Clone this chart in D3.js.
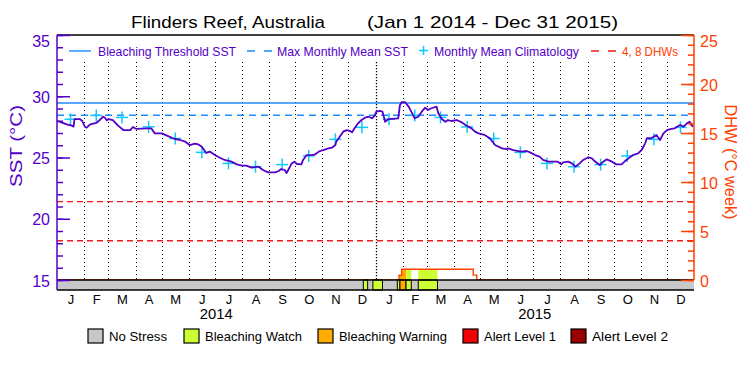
<!DOCTYPE html>
<html><head><meta charset="utf-8">
<script src="https://cdn.jsdelivr.net/npm/d3@7"></script>
<style>body{margin:0;background:#fff}svg{display:block}text{font-family:"Liberation Sans",Arial,sans-serif}</style>
</head><body><svg id="c" width="750" height="375"></svg>
<script>
// ---------------- DATA ----------------
const sstDates = ["2014-01-01","2014-01-06","2014-01-12","2014-01-18","2014-01-20","2014-01-21","2014-01-27","2014-01-30","2014-02-02","2014-02-04","2014-02-08","2014-02-15","2014-02-19","2014-02-23","2014-02-25","2014-02-27","2014-03-01","2014-03-06","2014-03-12","2014-03-18","2014-03-26","2014-03-29","2014-04-02","2014-04-14","2014-04-19","2014-04-23","2014-05-01","2014-05-07","2014-05-16","2014-05-22","2014-05-28","2014-06-02","2014-06-08","2014-06-12","2014-06-16","2014-06-21","2014-06-25","2014-07-01","2014-07-05","2014-07-12","2014-07-20","2014-07-26","2014-08-01","2014-08-06","2014-08-12","2014-08-20","2014-08-25","2014-08-31","2014-09-08","2014-09-12","2014-09-15","2014-09-19","2014-09-21","2014-09-23","2014-09-27","2014-09-30","2014-10-03","2014-10-08","2014-10-10","2014-10-14","2014-10-20","2014-10-24","2014-10-28","2014-11-02","2014-11-08","2014-11-12","2014-11-16","2014-11-17","2014-11-21","2014-11-25","2014-11-29","2014-12-03","2014-12-05","2014-12-08","2014-12-12","2014-12-16","2014-12-20","2014-12-24","2014-12-28","2014-12-31","2015-01-02","2015-01-06","2015-01-09","2015-01-11","2015-01-12","2015-01-16","2015-01-27","2015-01-29","2015-01-31","2015-02-04","2015-02-08","2015-02-11","2015-02-15","2015-02-19","2015-02-23","2015-02-27","2015-03-02","2015-03-06","2015-03-12","2015-03-14","2015-03-18","2015-03-22","2015-03-25","2015-03-29","2015-04-04","2015-04-10","2015-04-14","2015-04-21","2015-04-25","2015-04-29","2015-05-06","2015-05-12","2015-05-18","2015-05-26","2015-05-31","2015-06-02","2015-06-08","2015-06-17","2015-06-23","2015-06-27","2015-07-03","2015-07-08","2015-07-12","2015-07-18","2015-07-29","2015-08-02","2015-08-04","2015-08-10","2015-08-14","2015-08-18","2015-08-23","2015-08-27","2015-09-02","2015-09-06","2015-09-09","2015-09-15","2015-09-19","2015-09-23","2015-09-29","2015-10-04","2015-10-10","2015-10-14","2015-10-18","2015-10-23","2015-10-29","2015-11-02","2015-11-06","2015-11-08","2015-11-13","2015-11-19","2015-11-23","2015-11-27","2015-12-01","2015-12-06","2015-12-10","2015-12-16","2015-12-20","2015-12-24","2015-12-27","2015-12-29","2015-12-31"];
const sstValues = [28.0,27.87,27.71,27.6,27.52,28.14,28.14,27.98,27.49,27.43,27.71,27.82,28.06,28.33,28.25,28.03,28.14,28.06,27.6,27.24,27.24,27.49,27.33,27.38,27.38,26.97,26.97,26.78,26.51,26.43,26.29,26.02,26.13,26.07,25.88,25.37,25.48,25.2,25.04,24.8,24.66,24.44,24.33,24.33,24.17,24.25,23.98,23.79,23.79,23.9,24.06,23.98,23.73,23.98,24.52,24.66,24.47,24.44,24.8,25.2,25.2,25.26,25.48,25.61,25.75,25.8,26.02,26.29,26.7,27.11,27.24,27.16,27.05,27.38,27.79,28.06,28.25,28.33,28.2,28.41,28.74,28.8,28.74,28.2,27.92,28.14,28.2,29.29,29.51,29.51,29.15,28.74,28.2,28.33,28.74,29.07,28.88,29.02,29.15,28.61,28.14,27.92,28.06,27.98,28.06,27.87,27.65,27.38,27.11,26.97,26.84,26.57,26.02,25.75,25.69,25.75,25.61,25.48,25.53,25.42,25.2,25.07,24.8,24.66,24.66,24.44,24.61,24.66,24.52,24.25,24.52,24.8,25.02,24.93,24.71,24.39,24.66,24.85,24.66,24.44,24.44,24.71,24.93,25.2,25.34,25.61,26.16,26.57,26.57,26.84,26.43,26.97,27.24,27.33,27.38,27.65,27.52,27.79,27.92,27.65,27.52];

const climYears = [2014, 2015];
const climValues = [28.12,28.43,28.27,27.5,26.55,25.42,24.52,24.25,24.42,25.13,26.48,27.46];

const mmm = 28.45;
const bleachingThreshold = 29.45;
const dhwLevels = [4, 8];

const dhwDates  = ["2014-01-01","2015-01-28","2015-01-31","2015-04-23","2015-04-27","2015-12-31"];
const dhwValues = [0, 0.5, 1.1, 0.5, 0, 0];

const stressStart = ["2014-12-18","2014-12-29","2015-01-26","2015-01-29","2015-02-05","2015-02-19"];
const stressEnd   = ["2014-12-23","2015-01-09","2015-01-29","2015-02-05","2015-02-11","2015-03-13"];
const stressLevel = [1,1,1,2,1,1];

const stressNames  = ["No Stress","Bleaching Watch","Bleaching Warning","Alert Level 1","Alert Level 2"];
const stressColors = ["#c8c8c8","#ccff33","#ffaa00","#f00000","#960000"];

const monthLetters = ["J","F","M","A","M","J","J","A","S","O","N","D"];
const yearLabels = ["2014","2015"];
const leftTicks = [15,20,25,30,35];
const rightTicks = [0,5,10,15,20,25];

// ---------------- LAYOUT ----------------
const L=57, R=694, T=35, PB=280, BB=290;
const PURPLE="#5500c8", BLUE="#1e8cff", CYAN="#10c8ff", RED="#ee1c1c", ORANGE="#ff4000";
const parse = d3.utcParse("%Y-%m-%d");
const svg = d3.select("#c");
const x = d3.scaleUtc().domain([parse("2014-01-01"), parse("2016-01-01")]).range([L, R]);
const yL = d3.scaleLinear().domain([15,35]).range([PB,T]);
const yR = d3.scaleLinear().domain([0,25]).range([PB,T]);

// title
svg.append("text").attr("x",131).attr("y",28).attr("font-size",17).attr("textLength",194).attr("lengthAdjust","spacingAndGlyphs").text("Flinders Reef, Australia");
svg.append("text").attr("x",367).attr("y",28).attr("font-size",17).attr("textLength",251).attr("lengthAdjust","spacingAndGlyphs").text("(Jan 1 2014 - Dec 31 2015)");

// month dotted lines
const monthStarts = d3.utcMonths(parse("2014-02-01"), parse("2016-01-01"));
svg.append("g").selectAll("line").data(monthStarts).join("line")
  .attr("x1",d=>Math.round(x(d))+0.5).attr("x2",d=>Math.round(x(d))+0.5)
  .attr("y1",62).attr("y2",PB)
  .attr("stroke","#000")
  .attr("stroke-width",d=>d.getUTCMonth()===0?1.3:1)
  .attr("stroke-dasharray",d=>d.getUTCMonth()===0?"1.3,1.7":"1,3");

// DHW dashed levels
svg.append("g").selectAll("line").data(dhwLevels).join("line")
  .attr("x1",L).attr("x2",R).attr("y1",d=>yR(d)).attr("y2",d=>yR(d))
  .attr("stroke",RED).attr("stroke-width",1.4).attr("stroke-dasharray","6,4");

// threshold & MMM
svg.append("line").attr("x1",L).attr("x2",R).attr("y1",yL(bleachingThreshold)).attr("y2",yL(bleachingThreshold))
  .attr("stroke",BLUE).attr("stroke-width",1.4);
svg.append("line").attr("x1",L).attr("x2",R).attr("y1",yL(mmm)).attr("y2",yL(mmm))
  .attr("stroke",BLUE).attr("stroke-width",1.4).attr("stroke-dasharray","7,5");

// climatology crosses
const clim = [];
climYears.forEach(yr=>{
  climValues.forEach((v,i)=>{
    const s = Date.UTC(yr,i,1), e = Date.UTC(yr,i+1,1);
    clim.push({date:new Date((s+e)/2), v});
  });
});
const cg = svg.append("g").attr("stroke",CYAN).attr("stroke-width",1.5);
clim.forEach(c=>{
  const cx=x(c.date), cy=yL(c.v);
  cg.append("line").attr("x1",cx-6).attr("x2",cx+6).attr("y1",cy).attr("y2",cy);
  cg.append("line").attr("x1",cx).attr("x2",cx).attr("y1",cy-6).attr("y2",cy+6);
});

// SST line
const sst = sstDates.map((d,i)=>({date:parse(d), v:sstValues[i]}));
svg.append("path").datum(sst)
  .attr("d", d3.line().x(d=>x(d.date)).y(d=>yL(d.v)).curve(d3.curveLinear))
  .attr("fill","none").attr("stroke",PURPLE).attr("stroke-width",1.8).attr("stroke-linejoin","round");

// DHW area + line
const dhw = dhwDates.map((d,i)=>({date:parse(d), v:dhwValues[i]}));
const stress = stressStart.map((s,i)=>({s:parse(s), e:parse(stressEnd[i]), lvl:stressLevel[i]}));
const areaGen = d3.area().x(d=>x(d.date)).y0(PB).y1(d=>yR(d.v)).curve(d3.curveStepAfter);
svg.append("clipPath").attr("id","dhwclip").append("path").datum(dhw).attr("d",areaGen);
svg.append("path").datum(dhw).attr("d",areaGen).attr("fill","#fff");
svg.append("g").attr("clip-path","url(#dhwclip)").selectAll("rect").data(stress).join("rect")
  .attr("x",d=>x(d.s)).attr("width",d=>x(d.e)-x(d.s)).attr("y",T).attr("height",PB-T)
  .attr("fill",d=>stressColors[d.lvl]);
svg.append("path").datum(dhw)
  .attr("d", d3.line().x(d=>x(d.date)).y(d=>yR(d.v)).curve(d3.curveStepAfter))
  .attr("fill","none").attr("stroke",ORANGE).attr("stroke-width",1.4);

// stress bar
svg.append("rect").attr("x",L).attr("y",PB).attr("width",R-L).attr("height",BB-PB).attr("fill",stressColors[0]);
svg.append("g").selectAll("rect").data(stress).join("rect")
  .attr("x",d=>x(d.s)).attr("width",d=>x(d.e)-x(d.s)).attr("y",PB).attr("height",BB-PB)
  .attr("fill",d=>stressColors[d.lvl]).attr("stroke","#000").attr("stroke-width",1);
svg.append("line").attr("x1",L).attr("x2",R).attr("y1",PB).attr("y2",PB).attr("stroke","#000").attr("stroke-width",1.5);
svg.append("line").attr("x1",L).attr("x2",R).attr("y1",BB).attr("y2",BB).attr("stroke","#000").attr("stroke-width",1.5);
// top frame
svg.append("line").attr("x1",L).attr("x2",R).attr("y1",T).attr("y2",T).attr("stroke","#000").attr("stroke-width",1.5);

// left axis
const gl = svg.append("g").attr("transform",`translate(${L},0)`);
gl.call(d3.axisLeft(yL).tickValues(d3.range(15,36)).tickSize(-6).tickFormat(""));
gl.call(g=>g.select(".domain").remove());
const glM = svg.append("g").attr("transform",`translate(${L},0)`);
glM.call(d3.axisLeft(yL).tickValues(leftTicks).tickSize(-13).tickPadding(7));
glM.select(".domain").remove();
[gl,glM].forEach(g=>{g.selectAll("line").attr("stroke",PURPLE).attr("stroke-width",1.5);});
glM.selectAll("text").attr("fill",PURPLE).attr("font-size",16).attr("font-family","Liberation Sans, Arial, sans-serif")
  .attr("dy",d=>d===35?"0.72em":"0.38em");
svg.append("line").attr("x1",L).attr("x2",L).attr("y1",T).attr("y2",BB).attr("stroke",PURPLE).attr("stroke-width",1.5);

// right axis
const gr = svg.append("g").attr("transform",`translate(${R},0)`);
gr.call(d3.axisRight(yR).tickValues(d3.range(0,26)).tickSize(-6).tickFormat(""));
gr.select(".domain").remove();
const grM = svg.append("g").attr("transform",`translate(${R},0)`);
grM.call(d3.axisRight(yR).tickValues(rightTicks).tickSize(-13).tickPadding(6));
grM.select(".domain").remove();
[gr,grM].forEach(g=>{g.selectAll("line").attr("stroke",ORANGE).attr("stroke-width",1.5);});
grM.selectAll("text").attr("fill",ORANGE).attr("font-size",16).attr("font-family","Liberation Sans, Arial, sans-serif")
  .attr("dy",d=>d===25?"0.72em":"0.38em");
svg.append("line").attr("x1",R).attr("x2",R).attr("y1",T).attr("y2",PB).attr("stroke",ORANGE).attr("stroke-width",1.5);

// axis titles
svg.append("text").attr("transform","translate(22,146) rotate(-90)").attr("text-anchor","middle")
  .attr("font-size",17).attr("fill",PURPLE).attr("textLength",82).attr("lengthAdjust","spacingAndGlyphs").text("SST (°C)");
svg.append("text").attr("transform","translate(725,162) rotate(90)").attr("text-anchor","middle")
  .attr("font-size",17).attr("fill",ORANGE).attr("textLength",115).attr("lengthAdjust","spacingAndGlyphs").text("DHW (°C week)");

// bottom month axis
const midMonths = d3.utcMonths(parse("2014-01-01"), parse("2016-01-01")).map(d=>{
  const e = d3.utcMonth.offset(d,1); return new Date((+d + +e)/2);
});
const gx = svg.append("g").attr("transform",`translate(0,${BB})`);
gx.call(d3.axisBottom(x).tickValues(midMonths).tickSize(0).tickPadding(5).tickFormat(d=>monthLetters[d.getUTCMonth()]));
gx.select(".domain").remove();
gx.selectAll("text").attr("font-size",13).attr("fill","#000").attr("font-family","Liberation Sans, Arial, sans-serif");
svg.append("g").selectAll("text").data(yearLabels).join("text")
  .attr("x",d=>x(new Date((Date.UTC(+d,0,1)+Date.UTC(+d+1,0,1))/2))).attr("y",319)
  .attr("text-anchor","middle").attr("font-size",14).attr("textLength",33).attr("lengthAdjust","spacingAndGlyphs").text(d=>d);

// top legend
const lg = svg.append("g");
lg.append("line").attr("x1",69).attr("x2",91).attr("y1",51).attr("y2",51).attr("stroke",BLUE).attr("stroke-width",1.4);
lg.append("text").attr("x",98).attr("y",55.5).attr("font-size",13).attr("fill",PURPLE).attr("textLength",138).attr("lengthAdjust","spacingAndGlyphs").text("Bleaching Threshold SST");
lg.append("line").attr("x1",247).attr("x2",272).attr("y1",51).attr("y2",51).attr("stroke",BLUE).attr("stroke-width",1.4).attr("stroke-dasharray","8,9");
lg.append("text").attr("x",277).attr("y",55.5).attr("font-size",13).attr("fill",PURPLE).attr("textLength",131).attr("lengthAdjust","spacingAndGlyphs").text("Max Monthly Mean SST");
lg.append("line").attr("x1",419).attr("x2",428).attr("y1",50.5).attr("y2",50.5).attr("stroke",CYAN).attr("stroke-width",1.6);
lg.append("line").attr("x1",423.5).attr("x2",423.5).attr("y1",46).attr("y2",55).attr("stroke",CYAN).attr("stroke-width",1.6);
lg.append("text").attr("x",434).attr("y",55.5).attr("font-size",13).attr("fill",PURPLE).attr("textLength",145).attr("lengthAdjust","spacingAndGlyphs").text("Monthly Mean Climatology");
lg.append("line").attr("x1",591).attr("x2",616).attr("y1",51).attr("y2",51).attr("stroke",RED).attr("stroke-width",1.4).attr("stroke-dasharray","8,9");
lg.append("text").attr("x",622).attr("y",55.5).attr("font-size",13).attr("fill",ORANGE).attr("textLength",56).attr("lengthAdjust","spacingAndGlyphs").text("4, 8 DHWs");

// bottom legend
const boxX = [88,184,318,463,571];
const txtW = [58,97,108,72,76];
const bl = svg.append("g");
stressNames.forEach((n,i)=>{
  bl.append("rect").attr("x",boxX[i]).attr("y",329).attr("width",15).attr("height",14)
    .attr("fill",stressColors[i]).attr("stroke","#000").attr("stroke-width",1.2);
  bl.append("text").attr("x",boxX[i]+21).attr("y",341).attr("font-size",13).attr("fill","#000")
    .attr("textLength",txtW[i]).attr("lengthAdjust","spacingAndGlyphs").text(n);
});
</script></body></html>
